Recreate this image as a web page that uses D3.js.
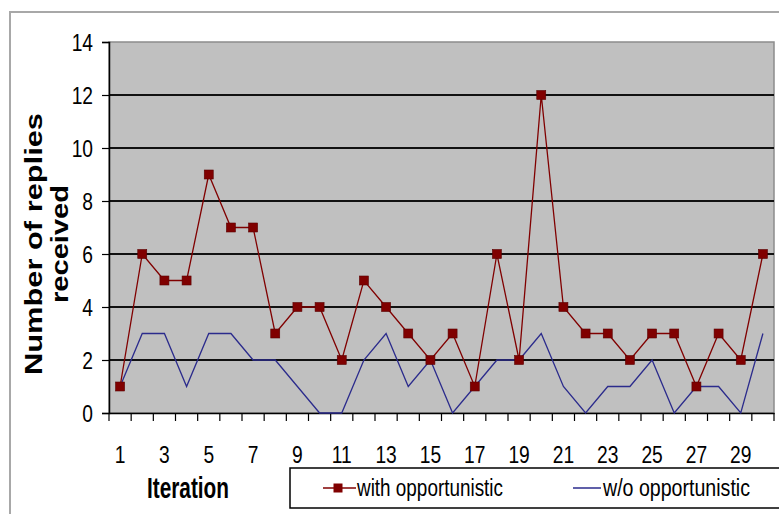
<!DOCTYPE html>
<html>
<head>
<meta charset="utf-8">
<script src="https://cdn.jsdelivr.net/npm/d3@7"></script>
<style>
  body { margin: 0; background: #fff; }
  text { font-family: Arial, "Liberation Sans", sans-serif; fill: #000; }
</style>
</head>
<body>
<div id="chart"></div>
<script>
// data
var iterations = d3.range(1, 31);
var withOpp = [1, 6, 5, 5, 9, 7, 7, 3, 4, 4, 2, 5, 4, 3, 2, 3, 1, 6, 2, 12, 4, 3, 3, 2, 3, 3, 1, 3, 2, 6];
var withoutOpp = [1, 3, 3, 1, 3, 3, 2, 2, 1, 0, 0, 2, 3, 1, 2, 0, 1, 2, 2, 3, 1, 0, 1, 1, 2, 0, 1, 1, 0, 3];
var yTicks = [0, 2, 4, 6, 8, 10, 12, 14];
var seriesNames = ["with opportunistic", "w/o opportunistic"];

var svgWidth = 779;
var svgHeight = 514;

var margin = { top: 42, right: 5, bottom: 101, left: 109 };
var width = svgWidth - margin.left - margin.right;
var height = svgHeight - margin.top - margin.bottom;

var red = "#800000";
var blue = "#2b2b8c";
var sx = 0.8; // the source picture is squeezed sideways

var svg = d3.select("#chart")
    .append("svg")
    .attr("width", svgWidth)
    .attr("height", svgHeight);

// outer chart-area border (only top and left are visible)
svg.append("path")
    .attr("d", "M10,514 L10,12 L779,12")
    .attr("fill", "none")
    .attr("stroke", "#a8a8a8")
    .attr("stroke-width", 2);

var chartGroup = svg.append("g")
    .attr("transform", `translate(${margin.left}, ${margin.top})`);

// scales
var xScale = d3.scaleBand()
    .domain(iterations)
    .range([0, width]);

var yScale = d3.scaleLinear()
    .domain([0, 14])
    .range([height, 0]);

// plot area
chartGroup.append("rect")
    .attr("width", width)
    .attr("height", height)
    .attr("fill", "#c0c0c0")
    .attr("stroke", "#8c8c8c")
    .attr("stroke-width", 1.5);

// gridlines
chartGroup.selectAll(".grid")
    .data(yTicks.filter(d => d > 0 && d < 14))
    .enter()
    .append("line")
    .attr("class", "grid")
    .attr("x1", 0)
    .attr("x2", width)
    .attr("y1", d => yScale(d))
    .attr("y2", d => yScale(d))
    .attr("stroke", "#111")
    .attr("stroke-width", 2);

// left axis
var leftAxis = d3.axisLeft(yScale).tickValues(yTicks).tickSize(7);
var yAxisG = chartGroup.append("g").call(leftAxis);
yAxisG.select(".domain").attr("stroke", "#000").attr("stroke-width", 1.5);
yAxisG.selectAll(".tick line").attr("stroke", "#000").attr("stroke-width", 1.2);
yAxisG.selectAll("text")
    .style("font-size", "24px")
    .attr("x", -16 / sx)
    .attr("dy", "0.36em")
    .attr("transform", `scale(${sx},1)`);

// bottom axis: labels at category centres, ticks at category edges
var bottomAxis = d3.axisBottom(xScale)
    .tickSize(0)
    .tickPadding(33)
    .tickFormat(d => d % 2 === 1 ? d : "");
var xAxisG = chartGroup.append("g")
    .attr("transform", `translate(0,${height})`)
    .call(bottomAxis);
xAxisG.select(".domain").attr("stroke", "#000").attr("stroke-width", 1.5);
xAxisG.selectAll("text")
    .style("font-size", "24px")
    .attr("transform", `scale(${sx},1)`);

xAxisG.selectAll(".edge")
    .data(iterations.concat([null]))
    .enter()
    .append("line")
    .attr("class", "edge")
    .attr("x1", d => d === null ? width : xScale(d))
    .attr("x2", d => d === null ? width : xScale(d))
    .attr("y1", 0)
    .attr("y2", 8)
    .attr("stroke", "#000")
    .attr("stroke-width", 1.2);

// axis titles
svg.append("text")
    .attr("x", 188)
    .attr("y", 498)
    .attr("text-anchor", "middle")
    .attr("textLength", 82)
    .attr("lengthAdjust", "spacingAndGlyphs")
    .style("font-size", "29px")
    .style("font-weight", "bold")
    .text("Iteration");

svg.append("text")
    .attr("transform", "translate(42,244) rotate(-90)")
    .attr("text-anchor", "middle")
    .attr("textLength", 262)
    .attr("lengthAdjust", "spacingAndGlyphs")
    .style("font-size", "24px")
    .style("font-weight", "bold")
    .text("Number of replies");

svg.append("text")
    .attr("transform", "translate(68,244) rotate(-90)")
    .attr("text-anchor", "middle")
    .attr("textLength", 118)
    .attr("lengthAdjust", "spacingAndGlyphs")
    .style("font-size", "24px")
    .style("font-weight", "bold")
    .text("received");

// lines
var lineGen = d3.line()
    .x((d, i) => xScale(iterations[i]) + xScale.bandwidth() / 2)
    .y(d => yScale(d));

chartGroup.append("path")
    .datum(withoutOpp)
    .attr("d", lineGen)
    .attr("fill", "none")
    .attr("stroke", blue)
    .attr("stroke-width", 1.3);

chartGroup.append("path")
    .datum(withOpp)
    .attr("d", lineGen)
    .attr("fill", "none")
    .attr("stroke", red)
    .attr("stroke-width", 1.3);

chartGroup.selectAll(".marker")
    .data(withOpp)
    .enter()
    .append("rect")
    .attr("class", "marker")
    .attr("x", (d, i) => xScale(iterations[i]) + xScale.bandwidth() / 2 - 4.5)
    .attr("y", d => yScale(d) - 4.5)
    .attr("width", 9)
    .attr("height", 9)
    .attr("fill", red)
    .attr("stroke", "#5a0000")
    .attr("stroke-width", 0.6);

// legend
var legend = svg.append("g");
legend.append("rect")
    .attr("x", 290)
    .attr("y", 468)
    .attr("width", 500)
    .attr("height", 40)
    .attr("fill", "#fff")
    .attr("stroke", "#000")
    .attr("stroke-width", 1.5);

legend.append("line")
    .attr("x1", 323).attr("x2", 356)
    .attr("y1", 488).attr("y2", 488)
    .attr("stroke", red)
    .attr("stroke-width", 1.5);
legend.append("rect")
    .attr("x", 333.5).attr("y", 483.5)
    .attr("width", 9).attr("height", 9)
    .attr("fill", red);
legend.append("text")
    .attr("x", 357)
    .attr("y", 496)
    .attr("textLength", 146)
    .attr("lengthAdjust", "spacingAndGlyphs")
    .style("font-size", "23px")
    .text(seriesNames[0]);

legend.append("line")
    .attr("x1", 573).attr("x2", 601)
    .attr("y1", 488).attr("y2", 488)
    .attr("stroke", blue)
    .attr("stroke-width", 1.5);
legend.append("text")
    .attr("x", 603)
    .attr("y", 496)
    .attr("textLength", 147)
    .attr("lengthAdjust", "spacingAndGlyphs")
    .style("font-size", "23px")
    .text(seriesNames[1]);
</script>
</body>
</html>
